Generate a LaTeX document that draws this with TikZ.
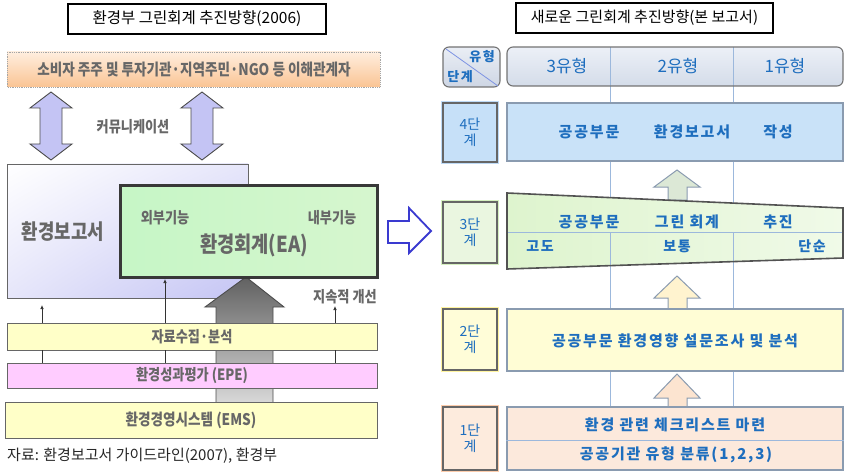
\documentclass[tikz,border=0pt]{standalone}
\usepackage{fontspec}
\setmainfont{Noto Sans CJK KR}
\newfontfamily\cond[FakeStretch=0.85]{Noto Sans CJK KR}
\newfontfamily\rfont[LetterSpace=12]{Noto Sans CJK KR}
\usetikzlibrary{arrows.meta,shadings}
\definecolor{gtxt}{HTML}{676767}
\definecolor{btxt}{HTML}{1E6EBE}
\definecolor{vline}{HTML}{9CB8DC}
\definecolor{lav}{HTML}{C4C4F4}
\definecolor{lavl}{HTML}{E6E6FA}
\definecolor{ylw}{HTML}{FFFFC8}
\definecolor{pnk}{HTML}{FFCCFF}
\definecolor{barb}{HTML}{8A9BB0}
\tikzset{
  glbl/.style={text=gtxt, font=\cond\bfseries\fontsize{#1}{#1}\selectfont, inner sep=0pt},
  glbl/.default=15,
  blbl/.style={text=btxt, font=\rfont\bfseries\fontsize{#1}{#1}\selectfont, inner sep=0pt},
  blbl/.default=15,
  stlbl/.style={text=btxt, font=\fontsize{14}{16}\selectfont, align=center, inner sep=0pt},
  ttl/.style={draw=black, line width=2.2pt, fill=white, inner sep=0pt},
  lbar/.style={draw=gray!80!black, line width=0.9pt},
  thin/.style={draw=black!80, line width=0.7pt},
  tarr/.style={thin, -{Latex[length=4pt,width=3.5pt]}},
  barbox/.style={draw=barb, line width=1.2pt},
  stbox/.style={draw=black!60, line width=1.3pt},
  uparr/.style={draw=barb, line width=1pt},
}
\begin{document}
\begin{tikzpicture}[x=1pt,y=-1pt]
\useasboundingbox (0,0) rectangle (845,473);
% ================= LEFT =================
\node[ttl, minimum width=258pt, minimum height=30pt, font=\fontsize{15.5}{16}\selectfont] (t1) at (197,19) {환경부 그린회계 추진방향(2006)};
% stakeholder bar
\shade[top color={rgb,255:red,255;green,238;blue,222}, bottom color={rgb,255:red,250;green,196;blue,148}] (7,52) rectangle (380,87);
\draw[gray!70, densely dotted, line width=0.8pt] (7,52) rectangle (380,87);
\node[glbl=16] (stake) at (194,70) {소비자 주주 및 투자기관·지역주민·NGO 등 이해관계자};
% double arrows
\foreach \cx/\nm in {51/da1,202/da2}{
  \filldraw[fill=lav, draw=black!70, line width=0.9pt]
   (\cx,92) -- (\cx+21,108) -- (\cx+11,108) -- (\cx+11,144) -- (\cx+21,144) -- (\cx,160)
   -- (\cx-21,144) -- (\cx-11,144) -- (\cx-11,108) -- (\cx-21,108) -- cycle;
}
\node[glbl=15.5] (comm) at (133,127) {커뮤니케이션};
% report box
\shade[upper left=white, lower right=lav, upper right=lavl, lower left=lavl] (7,164) rectangle (248,298);
\draw[lbar] (7,164) rectangle (248,298);
\node[glbl=21] (rep) at (63,232) {환경보고서};
% gray big arrow
\shade[top color=black!62, bottom color=black!15]
  (246,277) -- (284,307) -- (273,307) -- (273,403) -- (216,403) -- (216,307) -- (205,307) -- cycle;
\draw[draw=black!70, line width=0.9pt]
  (246,277) -- (284,307) -- (273,307) -- (273,403) -- (216,403) -- (216,307) -- (205,307) -- cycle;
% green EA box
\shade[left color={rgb,255:red,198;green,246;blue,198}, middle color={rgb,255:red,240;green,255;blue,238}, right color={rgb,255:red,214;green,246;blue,206}] (120,185) rectangle (377,277);
\draw[draw=black!78, line width=3pt] (120,185) rectangle (377,277);
\node[glbl=15.5] (ext) at (165,218) {외부기능};
\node[glbl=15.5] (int) at (332,218) {내부기능};
\node[glbl=22] (ea) at (254,245) {환경회계(EA)};
% blue outline arrow
\filldraw[fill=white, draw={rgb,255:red,58;green,58;blue,208}, line width=1.8pt, line join=miter]
  (388,221) -- (409,221) -- (409,208) -- (431,231) -- (409,253) -- (409,243) -- (388,243) -- cycle;
% bars
\node[lbar, fill=ylw, minimum width=370pt, minimum height=27pt, inner sep=0pt] (b1) at (192,336.5) {};
\node[glbl=15.5] (b1t) at (b1) {자료수집·분석};
\node[lbar, fill=pnk, minimum width=370pt, minimum height=25pt, inner sep=0pt] (b2) at (192,375.5) {};
\node[glbl=15.5] (b2t) at (b2) {환경성과평가 (EPE)};
\node[lbar, fill=ylw, minimum width=372pt, minimum height=36pt, inner sep=0pt] (b3) at (191,420) {};
\node[glbl=16] (b3t) at (b3) {환경경영시스템 (EMS)};
% thin arrows
\coordinate (a1e) at (42,305);
\coordinate (a3e) at (335,306);
\draw[tarr] (b1.north -| a1e) -- (a1e);
\draw[tarr] (b1.north -| 165,0) -- (165,279);
\draw[tarr] (b1.north -| a3e) -- (a3e);
\foreach \xx in {42,165,335}{
  \draw[thin] (b2.north -| \xx,0) -- (b1.south -| \xx,0);
}
\node[glbl=15.5] (kaizen) at (345,297) {지속적 개선};
\node[anchor=west, font=\fontsize{15}{16}\selectfont, inner sep=0pt, text=black!85] (src) at (7,456) {자료: 환경보고서 가이드라인(2007), 환경부};
% ================= RIGHT =================
\node[ttl, minimum width=257pt, minimum height=30pt, font=\fontsize{15}{16}\selectfont] (t2) at (644.5,18) {새로운 그린회계 추진방향(본 보고서)};
% vertical lines
\draw[vline, line width=0.9pt] (610,86) -- (610,407);
\draw[vline, line width=0.9pt] (733,86) -- (733,407);
% header corner
\shade[rounded corners=6pt, top color={rgb,255:red,234;green,238;blue,245}, bottom color={rgb,255:red,206;green,214;blue,228}] (443,47) rectangle (500,87);
\draw[rounded corners=6pt, draw=black!55, line width=1.1pt] (443,47) rectangle (500,87);
\draw[vline!80!blue, line width=0.8pt] (446,49) -- (498,86);
\node[blbl=13] (hc1) at (482,57) {유형};
\node[blbl=13] (hc2) at (460,77) {단계};
% header bar
\shade[rounded corners=6pt, top color={rgb,255:red,236;green,240;blue,247}, bottom color={rgb,255:red,212;green,220;blue,233}] (507,47) rectangle (843,86);
\draw[vline, line width=0.9pt] (610,47) -- (610,86) (733,47) -- (733,86);
\draw[rounded corners=6pt, draw=black!55, line width=1.1pt] (507,47) rectangle (843,86);
\node[text=btxt, font=\fontsize{17}{17}\selectfont, inner sep=0pt] (ty3) at (567,66) {3유형};
\node[text=btxt, font=\fontsize{17}{17}\selectfont, inner sep=0pt] (ty2) at (678,66) {2유형};
\node[text=btxt, font=\fontsize{17}{17}\selectfont, inner sep=0pt] (ty1) at (785,66) {1유형};
% stage 4
\draw[draw={rgb,255:red,190;green,218;blue,246}, line width=4pt] (443,103) rectangle (497,162);
\node[stbox, fill={rgb,255:red,198;green,224;blue,248}, minimum width=54pt, minimum height=59pt, inner sep=0pt] (s4) at (470,132.5) {};
\node[stlbl] (s4t) at (s4) {4단\\계};
\node[barbox, fill={rgb,255:red,201;green,226;blue,248}, minimum width=336pt, minimum height=58pt, inner sep=0pt] (r4) at (675,132) {};
\node[blbl] (r4a) at (589,132) {공공부문};
\node[blbl] (r4b) at (692,132) {환경보고서};
\node[blbl] (r4c) at (778,132) {작성};
% arrow 3->4
\filldraw[uparr, fill={rgb,255:red,220;green,232;blue,214}] (677,170) -- (700,187) -- (687,187) -- (687,200) -- (668,200) -- (668,187) -- (654,187) -- cycle;
% stage 3
\draw[draw={rgb,255:red,214;green,240;blue,192}, line width=4pt] (443,202) rectangle (497,263);
\node[stbox, fill={rgb,255:red,234;green,246;blue,224}, minimum width=54pt, minimum height=61pt, inner sep=0pt] (s3) at (470,232.5) {};
\node[stlbl] (s3t) at (s3) {3단\\계};
\shade[left color={rgb,255:red,222;green,244;blue,206}, right color={rgb,255:red,240;green,250;blue,232}] (507,193) -- (843,208) -- (843,258) -- (507,269) -- cycle;
\draw[vline, line width=0.9pt] (507,232) -- (843,232);
\draw[vline, line width=0.9pt] (610,232) -- (610,265.5) (733,232) -- (733,261.5);
\draw[draw=black!68, line width=1.6pt, line join=miter] (507,193) -- (843,208) -- (843,258) -- (507,269) -- cycle;
\node[blbl] (r3a) at (589,222) {공공부문};
\node[blbl] (r3b) at (687,222) {그린 회계};
\node[blbl] (r3c) at (778,222) {추진};
\node[blbl=14] (r3d) at (540,246) {고도};
\node[blbl=14] (r3e) at (677,246) {보통};
\node[blbl=14] (r3f) at (812,246) {단순};
% arrow 2->3
\filldraw[uparr, fill={rgb,255:red,255;green,243;blue,207}] (677,276) -- (700,298) -- (687,298) -- (687,310) -- (668,310) -- (668,298) -- (654,298) -- cycle;
% stage 2
\draw[draw={rgb,255:red,255;green,244;blue,160}, line width=4pt] (443,309) rectangle (497,370);
\node[stbox, fill={rgb,255:red,255;green,253;blue,216}, minimum width=54pt, minimum height=61pt, inner sep=0pt] (s2) at (470,339.5) {};
\node[stlbl] (s2t) at (s2) {2단\\계};
\node[barbox, fill={rgb,255:red,255;green,253;blue,213}, minimum width=336pt, minimum height=62pt, inner sep=0pt] (r2) at (675,340) {};
\node[blbl] (r2t) at (675,341) {공공부문 환경영향 설문조사 및 분석};
% arrow 1->2
\filldraw[uparr, fill={rgb,255:red,252;green,228;blue,208}] (677,374) -- (700,398) -- (687,398) -- (687,407) -- (668,407) -- (668,398) -- (654,398) -- cycle;
% stage 1
\draw[draw={rgb,255:red,252;green,204;blue,172}, line width=4pt] (443,407) rectangle (497,470);
\node[stbox, fill={rgb,255:red,253;green,235;blue,221}, minimum width=54pt, minimum height=63pt, inner sep=0pt] (s1) at (470,438.5) {};
\node[stlbl] (s1t) at (s1) {1단\\계};
\node[barbox, fill={rgb,255:red,252;green,233;blue,220}, minimum width=336pt, minimum height=63pt, inner sep=0pt] (r1) at (675,438.5) {};
\draw[vline, line width=0.9pt] (r1.west |- 0,440) -- (r1.east |- 0,440);
\node[blbl] (r1a) at (675,425) {환경 관련 체크리스트 마련};
\node[blbl] (r1b) at (676,455) {공공기관 유형 분류(1,2,3)};
\end{tikzpicture}
\end{document}
